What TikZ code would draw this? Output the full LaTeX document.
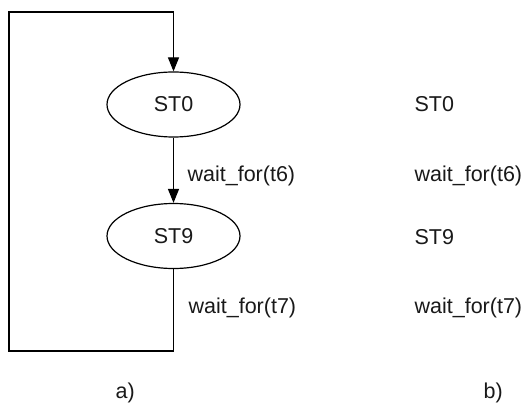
\documentclass[tikz,border=0pt]{standalone}
\usepackage{fontspec}
\setmainfont{Liberation Sans}
\usetikzlibrary{arrows.meta,shapes.geometric}
\begin{document}
\begin{tikzpicture}[x=1pt,y=-1pt,
  line width=1.2pt,
  every node/.style={font=\fontsize{21.5}{24}\selectfont, text=black!90},
  state/.style={draw, ellipse, minimum width=133pt, minimum height=65pt, inner sep=0pt},
  lbl/.style={anchor=base west, inner sep=0pt},
  tip/.style={-{Triangle[length=14pt,width=11pt]}}]
  \useasboundingbox (0,0) rectangle (526,403);

  % a) state graph
  \node[state] (st0) at (173.5,104.5) {ST0};
  \node[state] (st9) at (173.5,236) {ST9};

  \coordinate (bl) at (9,351);
  \coordinate (br) at (173.5,351);
  \coordinate (tl) at (9,12);
  \coordinate (tr) at (173.5,12);

  \draw[tip] (st0) -- (st9);
  \draw[tip] (st9.south) -- (br) -- (bl) -- (tl) -- (tr) -- (st0.north);

  \node[lbl] (w6a) at (187,182) {wait\_for(t6)};
  \node[lbl] (w7a) at (188,313) {wait\_for(t7)};
  \node[lbl] (capa) at (115,398) {a)};

  % b) textual listing
  \node[lbl] (s0b) at (414,112) {ST0};
  \node[lbl] (w6b) at (414,182) {wait\_for(t6)};
  \node[lbl] (s9b) at (414,244) {ST9};
  \node[lbl] (w7b) at (414,313) {wait\_for(t7)};
  \node[lbl] (capb) at (483,398) {b)};
\end{tikzpicture}
\end{document}
